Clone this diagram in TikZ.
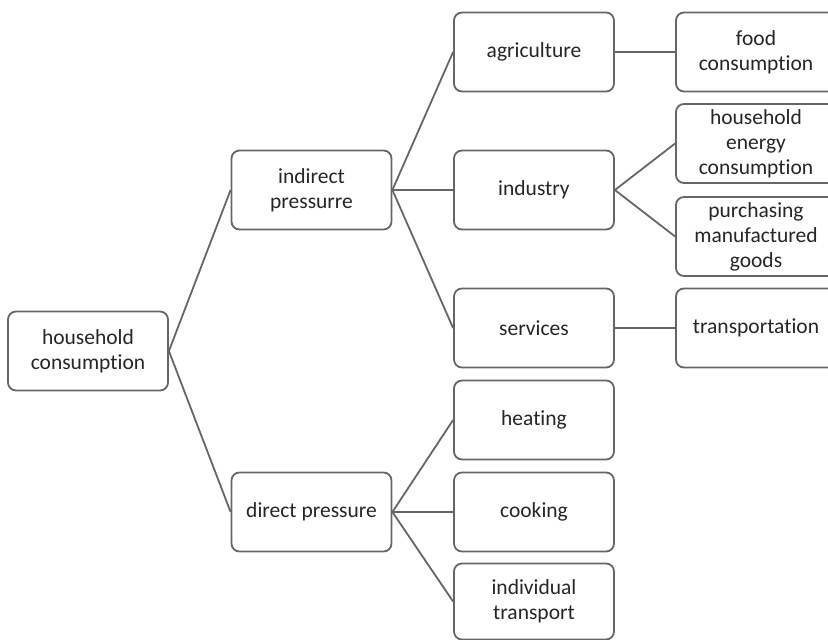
\documentclass[tikz,border=0pt]{standalone}
\usepackage{fontspec}
\setmainfont{Carlito}[Ligatures=NoCommon]
\definecolor{edgegray}{RGB}{102,102,102}
\definecolor{textgray}{RGB}{38,38,38}
\tikzset{
  box/.style={draw=edgegray, line width=1.8pt, rounded corners=8pt, fill=white,
    minimum width=160pt, minimum height=79pt, align=center, inner sep=0pt,
    text=textgray, font=\fontsize{21.5}{25}\selectfont},
  link/.style={draw=edgegray, line width=1.8pt}
}
\begin{document}
\begin{tikzpicture}[x=1pt,y=-1pt]
\useasboundingbox (0,0) rectangle (828,640);
\clip (0,0) rectangle (828,640);
\node[box] (hc) at (88,351) {household\\consumption};
\node[box] (ip) at (311.5,190) {indirect\\pressurre};
\node[box] (dp) at (311.5,512) {direct pressure};
\node[box] (ag) at (534,52) {agriculture};
\node[box] (in) at (534,190) {industry};
\node[box] (se) at (534,328) {services};
\node[box] (he) at (534,420) {heating};
\node[box] (co) at (534,512) {cooking};
\node[box, minimum height=76pt] (it) at (534,601.5) {individual\\transport};
\node[box] (fc) at (756,52) {food\\consumption};
\node[box] (ec) at (756,143.5) {household\\energy\\consumption};
\node[box] (pm) at (756,236.5) {purchasing\\manufactured\\goods};
\node[box] (tr) at (756,328) {transportation};
\draw[link] (hc.east) -- (ip.west);
\draw[link] (hc.east) -- (dp.west);
\draw[link] (ip.east) -- (ag.west);
\draw[link] (ip.east) -- (in.west);
\draw[link] (ip.east) -- (se.west);
\draw[link] (ag.east) -- (fc.west);
\draw[link] (in.east) -- (ec.west);
\draw[link] (in.east) -- (pm.west);
\draw[link] (se.east) -- (tr.west);
\draw[link] (dp.east) -- (he.west);
\draw[link] (dp.east) -- (co.west);
\draw[link] (dp.east) -- (it.west);
\end{tikzpicture}
\end{document}
